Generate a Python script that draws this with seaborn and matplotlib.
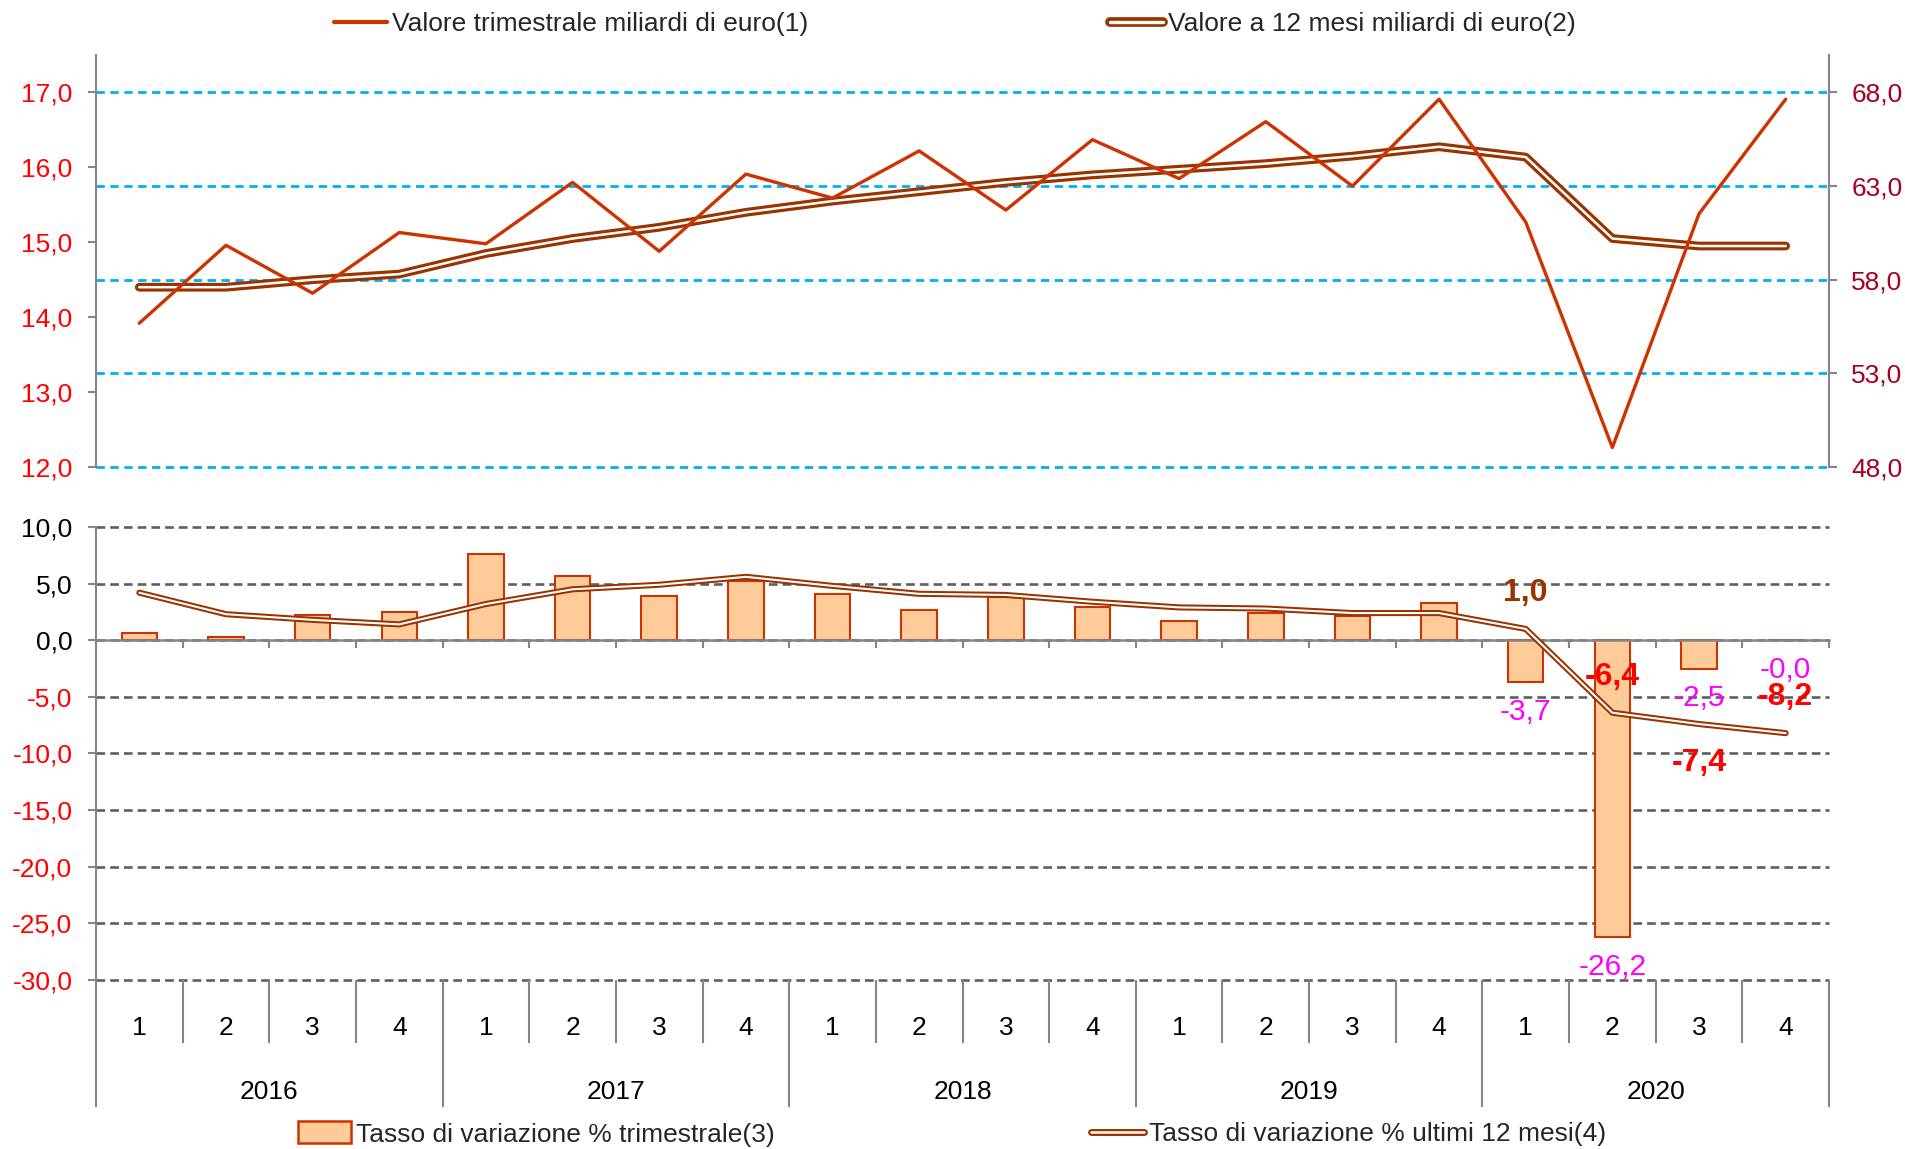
import numpy as np
import pandas as pd
import matplotlib
matplotlib.use("Agg")
import matplotlib.pyplot as plt
import seaborn as sns
from matplotlib.ticker import FuncFormatter
from matplotlib.lines import Line2D
from matplotlib.patches import Patch

# ---------------- data ----------------
years = ["2016", "2017", "2018", "2019", "2020"]
quarters = ["1", "2", "3", "4"]
valore_trim = [13.92, 14.96, 14.32, 15.13, 14.98, 15.80, 14.88, 15.91, 15.59, 16.22,
               15.43, 16.37, 15.85, 16.61, 15.75, 16.91, 15.27, 12.26, 15.38, 16.91]
valore_12m = [57.6, 57.6, 58.0, 58.3, 59.4, 60.2, 60.8, 61.6, 62.2, 62.7,
              63.2, 63.6, 63.9, 64.2, 64.6, 65.1, 64.55, 60.2, 59.8, 59.8]
tasso_trim = [0.6, 0.3, 2.2, 2.5, 7.6, 5.7, 3.9, 5.2, 4.1, 2.7,
              3.8, 2.9, 1.7, 2.4, 2.1, 3.3, -3.7, -26.2, -2.5, -0.02]
tasso_12m = [4.2, 2.3, 1.8, 1.4, 3.2, 4.5, 4.9, 5.6, 4.8, 4.1,
             4.0, 3.4, 2.9, 2.8, 2.4, 2.4, 1.0, -6.4, -7.4, -8.2]
legend_labels = ["Valore trimestrale miliardi di euro(1)",
                 "Valore a 12 mesi miliardi di euro(2)",
                 "Tasso di variazione % trimestrale(3)",
                 "Tasso di variazione % ultimi 12 mesi(4)"]
label_dir = [1, 1, -1, 1]   # placement of the bold labels (above / below)

n = len(valore_trim)
df = pd.DataFrame({"pos": np.arange(n), "trim": valore_trim, "m12": valore_12m,
                   "ttrim": tasso_trim, "t12": tasso_12m})

# ---------------- style ----------------
sns.set_style("white")
plt.rcParams["font.family"] = ["Liberation Sans", "DejaVu Sans"]
FS = 19
GRAY = "#868686"
RED_LINE = "#CC3300"
BROWN = "#993300"
BAR_FILL = "#FFCC99"

def comma(v, _=None):
    return f"{v:.1f}".replace(".", ",")

W, H = 1905, 1149
fig = plt.figure(figsize=(W / 100, H / 100), dpi=100)

# ---------------- top panel ----------------
ax_t = fig.add_axes([96 / W, 1 - 467 / H, (1829 - 96) / W, (467 - 55) / H])
ax_r = ax_t.twinx()
ax_t.set_zorder(ax_r.get_zorder() + 1)
ax_t.patch.set_visible(False)

ax_r.yaxis.grid(True, color="#00B0F0", linestyle=(0, (3.0, 2.0)), linewidth=2.0,
                clip_on=False)
ax_r.set_axisbelow(True)
sns.lineplot(data=df, x="pos", y="m12", ax=ax_r, color=BROWN, linewidth=6.3,
             solid_capstyle="round", legend=False, zorder=3)
sns.lineplot(data=df, x="pos", y="m12", ax=ax_r, color="white", linewidth=1.8,
             solid_capstyle="round", legend=False, zorder=4)
sns.lineplot(data=df, x="pos", y="trim", ax=ax_t, color=RED_LINE, linewidth=2.4,
             legend=False, zorder=3)

ax_t.set_xlim(-0.5, n - 0.5)
ax_t.set_ylim(12, 17.5)
ax_r.set_ylim(48, 70)
ax_t.set_yticks(np.arange(12, 17.01, 1))
ax_r.set_yticks(np.arange(48, 68.01, 5))
ax_t.yaxis.set_major_formatter(FuncFormatter(comma))
ax_r.yaxis.set_major_formatter(FuncFormatter(comma))
ax_t.set_xticks([])
for a in (ax_t, ax_r):
    a.set_xlabel("")
    a.set_ylabel("")
    for s in ("top", "bottom"):
        a.spines[s].set_visible(False)
ax_t.spines["right"].set_visible(False)
ax_r.spines["left"].set_visible(False)
ax_t.spines["left"].set_color(GRAY)
ax_t.spines["left"].set_linewidth(1.5)
ax_r.spines["right"].set_color(GRAY)
ax_r.spines["right"].set_linewidth(1.5)
ax_t.tick_params(axis="y", direction="out", length=6, width=1.5, color=GRAY,
                 labelcolor="#FF0000", labelsize=FS, pad=11, left=True)
ax_r.tick_params(axis="y", direction="out", length=6, width=1.5, color=GRAY,
                 labelcolor="#A50021", labelsize=FS, pad=10, right=True)

# ---------------- bottom panel ----------------
ax_b = fig.add_axes([96 / W, 1 - 980 / H, (1829 - 96) / W, (980 - 527) / H])
ax_b.yaxis.grid(True, color="#5F5F5F", linestyle=(0, (3.3, 1.9)), linewidth=1.9,
                clip_on=False)
ax_b.set_axisbelow(True)
sns.barplot(data=df, x="pos", y="ttrim", ax=ax_b, native_scale=True, width=0.41,
            color=BAR_FILL, edgecolor=RED_LINE, linewidth=1.5, saturation=1,
            errorbar=None, zorder=2)
sns.lineplot(data=df, x="pos", y="t12", ax=ax_b, color=BROWN, linewidth=4.4,
             solid_capstyle="round", legend=False, zorder=4)
sns.lineplot(data=df, x="pos", y="t12", ax=ax_b, color="white", linewidth=1.5,
             solid_capstyle="round", legend=False, zorder=5)

ax_b.set_xlim(-0.5, n - 0.5)
ax_b.set_ylim(-30, 10)
ax_b.set_yticks(np.arange(-30, 10.01, 5))
ax_b.yaxis.set_major_formatter(FuncFormatter(comma))
ax_b.set_xlabel("")
ax_b.set_ylabel("")
ax_b.spines["top"].set_visible(False)
ax_b.spines["right"].set_visible(False)
ax_b.spines["left"].set_color(GRAY)
ax_b.spines["left"].set_linewidth(1.5)
ax_b.spines["bottom"].set_position(("data", 0))
ax_b.spines["bottom"].set_color(GRAY)
ax_b.spines["bottom"].set_linewidth(1.8)
ax_b.spines["bottom"].set_zorder(3)
bounds = np.arange(-0.5, n, 1.0)
ax_b.set_xticks(bounds)
ax_b.tick_params(axis="x", direction="out", length=6, width=1.5, color=GRAY,
                 labelbottom=False, bottom=True)
ax_b.tick_params(axis="y", direction="out", length=6, width=1.5, color=GRAY,
                 labelsize=FS, pad=11, left=True)
for lab, v in zip(ax_b.get_yticklabels(), ax_b.get_yticks()):
    lab.set_color("#FF0000" if v < 0 else "black")

# multi-level category axis below the plot
xt = ax_b.get_xaxis_transform()
for b in bounds:
    year_edge = (round(b + 0.5) % 4 == 0)
    ax_b.plot([b, b], [0, -0.280 if year_edge else -0.139], transform=xt,
              color=GRAY, lw=1.5, clip_on=False, solid_capstyle="butt")
for i in range(n):
    ax_b.text(i, -0.106, quarters[i % 4], transform=xt, ha="center", va="center",
              fontsize=FS, color="black")
for k, y in enumerate(years):
    ax_b.text(4 * k + 1.5, -0.247, y, transform=xt, ha="center", va="center",
              fontsize=FS, color="black")

# data labels for the last four quarters
for j, i in enumerate(range(n - 4, n)):
    v = tasso_trim[i]
    ax_b.annotate(comma(v), xy=(i, v), xytext=(0, -21.5), textcoords="offset points",
                  ha="center", va="center", fontsize=21.5, color="#FF00FF", zorder=6)
    w = tasso_12m[i]
    col = BROWN if w >= 0 else "#FF0000"
    off = 26 if label_dir[j] > 0 else -28
    ax_b.annotate(comma(w), xy=(i, w), xytext=(0, off), textcoords="offset points",
                  ha="center", va="center", fontsize=23, fontweight="bold",
                  color=col, zorder=6)

# ---------------- legends ----------------
h_trim = Line2D([], [], color=RED_LINE, lw=3)
h_12m = (Line2D([], [], color=BROWN, lw=7, solid_capstyle="round"),
         Line2D([], [], color="white", lw=2.4, solid_capstyle="round"))
h_bar = Patch(facecolor=BAR_FILL, edgecolor=RED_LINE, linewidth=1.8)
h_t12 = (Line2D([], [], color=BROWN, lw=5, solid_capstyle="round"),
         Line2D([], [], color="white", lw=1.8, solid_capstyle="round"))

common = dict(loc="center left", frameon=False, handlelength=2.0, handletextpad=0.2,
              borderpad=0, borderaxespad=0, fontsize=FS)
fig.legend([h_trim], [legend_labels[0]], bbox_to_anchor=(334 / W, 1 - 24 / H), **common)
fig.legend([h_12m], [legend_labels[1]], bbox_to_anchor=(1110 / W, 1 - 24 / H), **common)
fig.legend([h_bar], [legend_labels[2]], bbox_to_anchor=(298 / W, 1 - 1134 / H),
           handleheight=0.9, **common)
fig.legend([h_t12], [legend_labels[3]], bbox_to_anchor=(1091 / W, 1 - 1134 / H), **common)

fig.savefig("out.png", dpi=100)
